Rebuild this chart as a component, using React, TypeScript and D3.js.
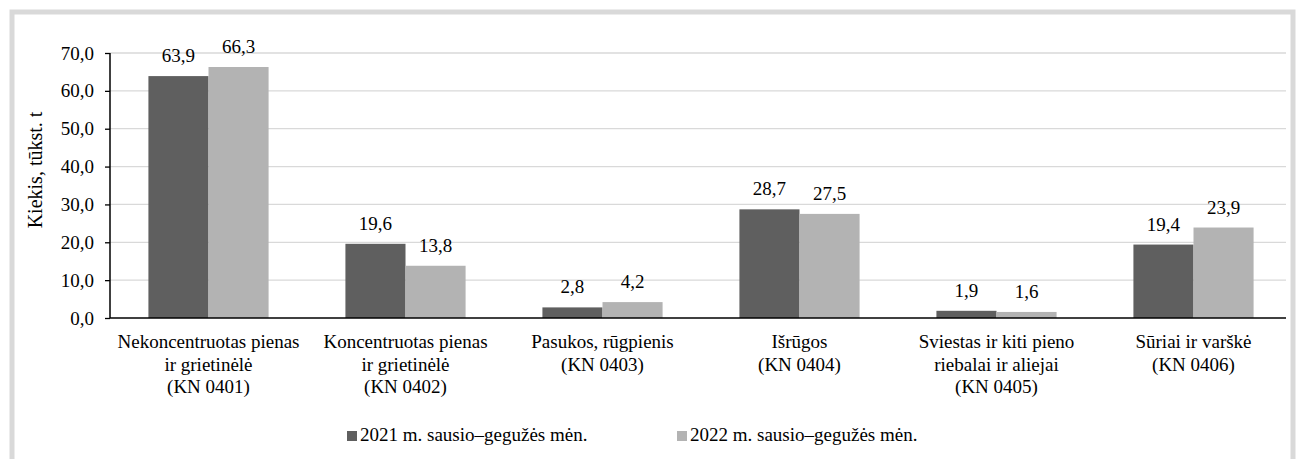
import { useEffect, useRef } from "react";
import * as d3 from "d3";

const categories = [
  ["Nekoncentruotas pienas", "ir grietinėlė", "(KN 0401)"],
  ["Koncentruotas pienas", "ir grietinėlė", "(KN 0402)"],
  ["Pasukos, rūgpienis", "(KN 0403)"],
  ["Išrūgos", "(KN 0404)"],
  ["Sviestas ir kiti pieno", "riebalai ir aliejai", "(KN 0405)"],
  ["Sūriai ir varškė", "(KN 0406)"],
];
const series = ["2021 m. sausio–gegužės mėn.", "2022 m. sausio–gegužės mėn."];
const values2021 = [63.9, 19.6, 2.8, 28.7, 1.9, 19.4];
const values2022 = [66.3, 13.8, 4.2, 27.5, 1.6, 23.9];
const yTicks = [0, 10, 20, 30, 40, 50, 60, 70];
const colors = ["#5f5f5f", "#b3b3b3"];

const FONT = "Liberation Serif, Tinos, Times New Roman, DejaVu Serif, Noto Serif, serif";
const fmt = (v: number) => v.toFixed(1).replace(".", ",");

export default function App() {
  const ref = useRef<SVGSVGElement>(null);

  useEffect(() => {
    const svg = d3.select(ref.current);
    svg.selectAll("*").remove();

    const width = 1296;
    const height = 459;
    const left = 110;
    const axisRight = 1286;
    const top = 53;
    const bottom = 318;

    svg.attr("width", width).attr("height", height).style("font-family", FONT);

    svg.append("rect")
      .attr("x", 0).attr("y", 0).attr("width", width).attr("height", height)
      .attr("fill", "#fff");

    // outer frame
    svg.append("rect")
      .attr("x", 12).attr("y", 12).attr("width", 1281).attr("height", 470)
      .attr("fill", "none").attr("stroke", "#d9d9d9").attr("stroke-width", 5);

    const idx = categories.map((_, i) => i);
    const x0 = d3.scaleBand<number>().domain(idx).range([left, 1292]);
    const groupW = x0.bandwidth() * 0.61;
    const x1 = d3.scaleBand<number>()
      .domain([0, 1])
      .range([(x0.bandwidth() - groupW) / 2, (x0.bandwidth() + groupW) / 2]);

    const y = d3.scaleLinear().domain([0, 70]).range([bottom, top]);

    // gridlines
    svg.append("g")
      .selectAll("line")
      .data(yTicks.filter(t => t > 0))
      .join("line")
      .attr("x1", left).attr("x2", axisRight)
      .attr("y1", d => y(d)).attr("y2", d => y(d))
      .attr("stroke", "#d9d9d9").attr("stroke-width", 1.3);

    // bars
    const data = [values2021, values2022];
    data.forEach((vals, s) => {
      svg.append("g")
        .selectAll("rect")
        .data(vals)
        .join("rect")
        .attr("x", (_, i) => (x0(i) as number) + (x1(s) as number))
        .attr("y", d => y(d))
        .attr("width", x1.bandwidth())
        .attr("height", d => bottom - y(d))
        .attr("fill", colors[s]);

      svg.append("g")
        .selectAll("text")
        .data(vals)
        .join("text")
        .attr("x", (_, i) => (x0(i) as number) + (x1(s) as number) + x1.bandwidth() / 2)
        .attr("y", d => y(d) - 14)
        .attr("text-anchor", "middle")
        .style("font-family", FONT)
        .attr("font-size", 19)
        .attr("fill", "#000")
        .text(d => fmt(d));
    });

    // y axis
    const yAxis = svg.append("g")
      .attr("transform", `translate(${left},0)`)
      .call(d3.axisLeft(y).tickValues(yTicks).tickSize(5).tickPadding(11).tickFormat(d => fmt(+d)));
    yAxis.attr("font-family", null);
    yAxis.select(".domain").attr("stroke", "#000").attr("stroke-width", 1.5).attr("d", `M0,${top}V${bottom}`);
    yAxis.selectAll(".tick line").attr("stroke", "#000").attr("stroke-width", 1.3);
    yAxis.selectAll(".tick text")
      .style("font-family", FONT).attr("font-size", 19).attr("fill", "#000");

    // x axis line
    svg.append("line")
      .attr("x1", left).attr("x2", axisRight)
      .attr("y1", bottom).attr("y2", bottom)
      .attr("stroke", "#000").attr("stroke-width", 1.6);

    // category labels
    const cat = svg.append("g");
    categories.forEach((lines, i) => {
      const t = cat.append("text")
        .attr("x", (x0(i) as number) + x0.bandwidth() / 2)
        .attr("y", 348)
        .attr("text-anchor", "middle")
        .style("font-family", FONT)
        .attr("font-size", 19)
        .attr("fill", "#000");
      lines.forEach((ln, j) => {
        t.append("tspan")
          .attr("x", (x0(i) as number) + x0.bandwidth() / 2)
          .attr("dy", j === 0 ? 0 : 22.5)
          .text(ln);
      });
    });

    // y title
    svg.append("text")
      .attr("transform", `translate(42,170) rotate(-90)`)
      .attr("text-anchor", "middle")
      .style("font-family", FONT)
      .attr("font-size", 20)
      .attr("fill", "#000")
      .text("Kiekis, tūkst. t");

    // legend
    const legendX = [347, 677];
    series.forEach((name, s) => {
      const g = svg.append("g").attr("transform", `translate(${legendX[s]},431)`);
      g.append("rect").attr("width", 10).attr("height", 10).attr("fill", colors[s]);
      g.append("text")
        .attr("x", 13).attr("y", 10)
        .style("font-family", FONT)
        .attr("font-size", 19)
        .attr("fill", "#000")
        .text(name);
    });
  }, []);

  return (
    <svg ref={ref} style={{ position: "absolute", left: 0, top: 0, display: "block" }}></svg>
  );
}
